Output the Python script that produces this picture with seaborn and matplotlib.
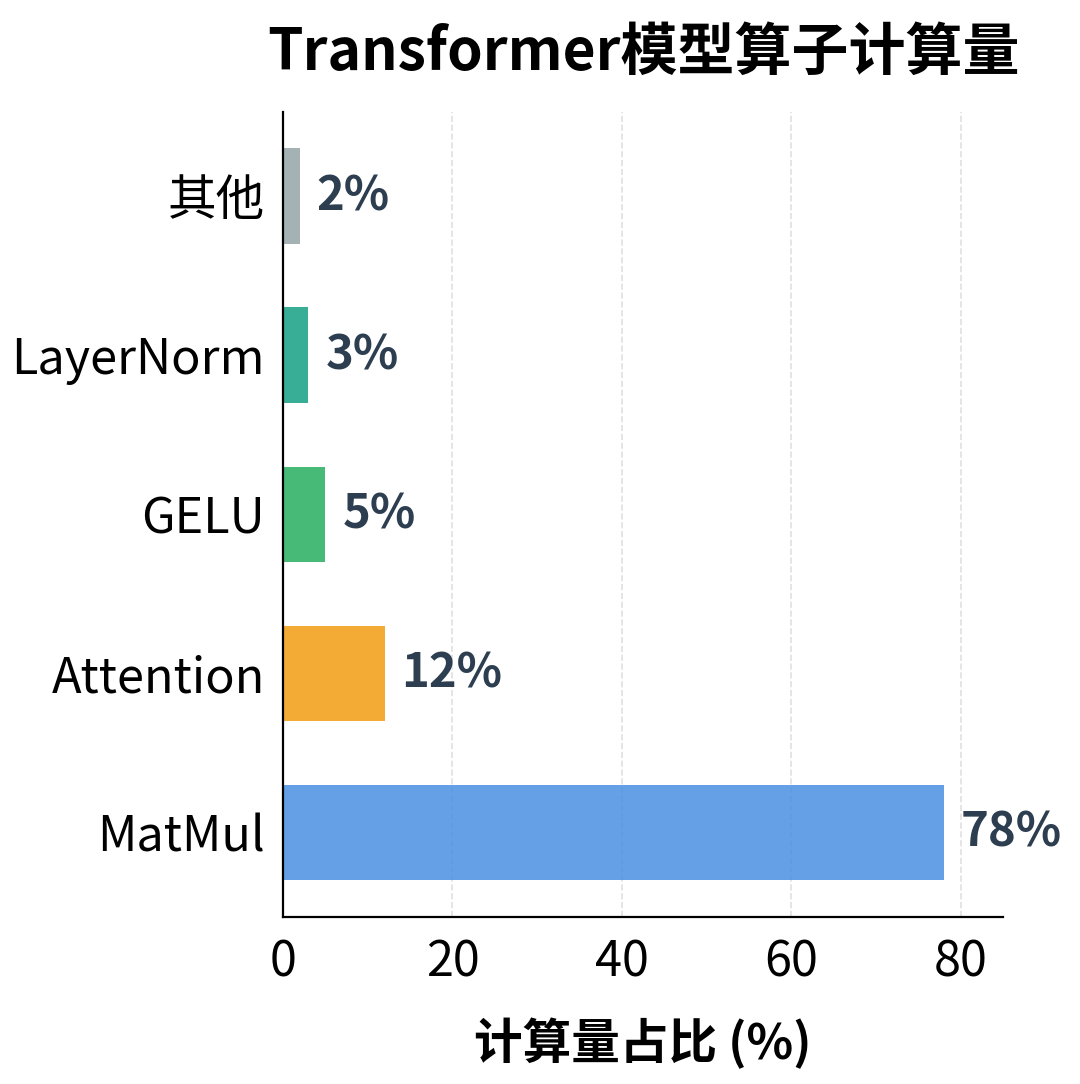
import seaborn as sns
import matplotlib.pyplot as plt
import pandas as pd

# 数据
operators = ['MatMul', 'Attention', 'GELU', 'LayerNorm', '其他']
shares = [78, 12, 5, 3, 2]
colors = ['#4A90E2', '#F39C12', '#27AE60', '#16A085', '#95A5A6']

sns.set_style('white')
plt.rcParams['font.family'] = ['Noto Sans CJK SC', 'DejaVu Sans']
plt.rcParams['axes.unicode_minus'] = False

df = pd.DataFrame({'op': operators, 'share': shares})
order = operators[::-1]
palette = dict(zip(operators, colors))

fig, ax = plt.subplots(figsize=(5.4, 5.42), dpi=200)
fig.subplots_adjust(left=0.262, right=0.929, top=0.897, bottom=0.154)

sns.barplot(data=df, y='op', x='share', hue='op', order=order, palette=palette,
            orient='h', width=0.6, alpha=0.85, saturation=1, linewidth=0,
            legend=False, ax=ax)

for i, name in enumerate(order):
    v = shares[operators.index(name)]
    ax.text(v + 2, i, f'{v}%', va='center', ha='left', fontsize=17,
            fontweight='bold', color='#2C3E50')

ax.set_xlim(0, 85)
ax.set_ylim(len(order) - 0.47, -0.53)
ax.set_xticks([0, 20, 40, 60, 80])
ax.xaxis.grid(True, linestyle='--', color='#cccccc', alpha=0.6, linewidth=0.6)
ax.set_axisbelow(True)
sns.despine(ax=ax)
for s in ['left', 'bottom']:
    ax.spines[s].set_linewidth(0.8)
    ax.spines[s].set_color('black')

ax.tick_params(axis='both', labelsize=17.5, length=4, width=0.8, colors='black')
ax.tick_params(axis='y', pad=2.5)
ax.set_ylabel('')
ax.set_xlabel('计算量占比 (%)', fontsize=17.5, fontweight='bold', labelpad=11,
              color='black')
ax.set_title('Transformer模型算子计算量', fontsize=20.5, fontweight='bold', pad=15,
             color='black')

plt.savefig('out.png')
